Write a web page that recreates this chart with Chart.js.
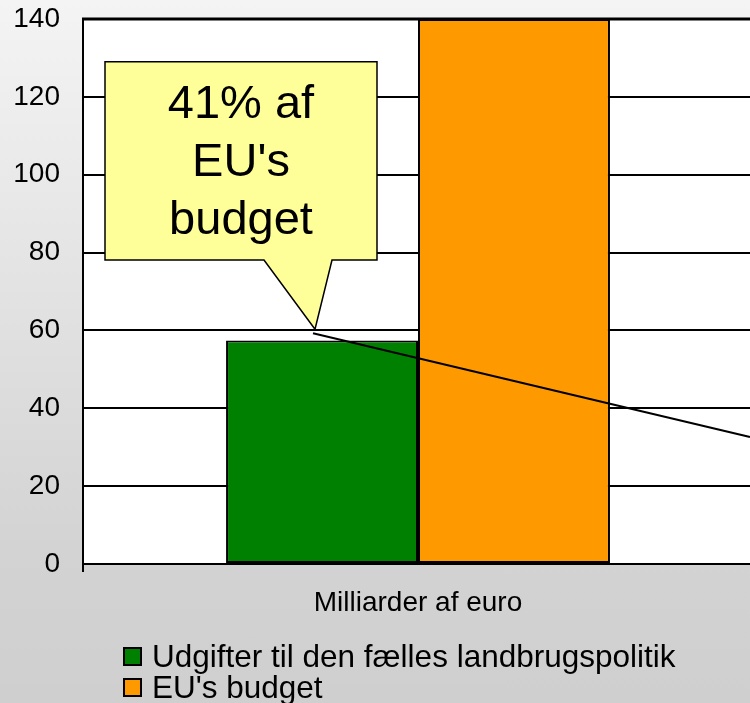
<!DOCTYPE html>
<html lang="da">
<head>
    <meta charset="UTF-8">
    <title>Landbrugspolitik</title>
    <script src="https://cdn.jsdelivr.net/npm/chart.js"></script>
    <style>
        html, body { margin: 0; padding: 0; }
        #wrap {
            position: relative;
            width: 750px;
            height: 703px;
            overflow: hidden;
            background: linear-gradient(to bottom, #f4f4f4 0%, #d3d3d3 78%, #cfcfcf 100%);
            font-family: Arial, "Liberation Sans", sans-serif;
        }
        #chartBox { position: absolute; left: 0; top: 0; width: 760px; height: 703px; }
        #legend { position: absolute; left: 123px; top: 641px; font-size: 31.5px; line-height: 31px; color: #000; }
        .legendRow { display: flex; align-items: center; white-space: nowrap; }
        .legendBox { width: 15px; height: 15px; border: 2px solid #000; margin-right: 10px; }
    </style>
</head>
<body>
    <div id="wrap">
        <div id="chartBox"><canvas id="chart" width="760" height="703"></canvas></div>
        <div id="legend"></div>
    </div>

    <script>
        const categories = ['Milliarder af euro'];
        const seriesLabels = ['Udgifter til den fælles landbrugspolitik', "EU's budget"];
        const farmSpending = [57.4];
        const euBudget = [140];
        const seriesColors = ['#008000', '#ff9900'];
        const yMin = 0;
        const yMax = 140;
        const yStep = 20;
        const calloutLines = ['41% af', "EU's", 'budget'];

        // callout box + pointer line (y in data units, x in px from chart left)
        const callout = {
            left: 22, right: 294, top: 129, bottom: 78.1,
            baseL: 181, baseR: 249, tipX: 232, tipY: 60.3
        };
        const pointerLine = { x1: 230, y1: 59.3, x2: 667, y2: 32.6 };

        const plotBackground = {
            id: 'plotBackground',
            beforeDraw(chart) {
                const { ctx, chartArea } = chart;
                ctx.save();
                ctx.fillStyle = '#ffffff';
                ctx.fillRect(chartArea.left, chartArea.top, chartArea.right - chartArea.left, chartArea.bottom - chartArea.top);
                ctx.restore();
            },
            afterDraw(chart) {
                const { ctx, chartArea } = chart;
                ctx.save();
                // thicker top border of plot area
                ctx.strokeStyle = '#000';
                ctx.lineWidth = 3;
                ctx.beginPath();
                ctx.moveTo(chartArea.left - 1, chartArea.top);
                ctx.lineTo(chartArea.right, chartArea.top);
                ctx.stroke();
                ctx.restore();
            }
        };

        const calloutPlugin = {
            id: 'callout',
            afterDatasetsDraw(chart) {
                const { ctx, chartArea } = chart;
                const y = chart.scales.y;
                const L = chartArea.left;
                const top = y.getPixelForValue(callout.top);
                const bottom = y.getPixelForValue(callout.bottom);

                ctx.save();
                ctx.lineJoin = 'miter';
                ctx.beginPath();
                ctx.moveTo(L + callout.left, top);
                ctx.lineTo(L + callout.right, top);
                ctx.lineTo(L + callout.right, bottom);
                ctx.lineTo(L + callout.baseR, bottom);
                ctx.lineTo(L + callout.tipX, y.getPixelForValue(callout.tipY));
                ctx.lineTo(L + callout.baseL, bottom);
                ctx.lineTo(L + callout.left, bottom);
                ctx.closePath();
                ctx.fillStyle = '#ffff99';
                ctx.fill();
                ctx.strokeStyle = '#000';
                ctx.lineWidth = 1.5;
                ctx.stroke();

                ctx.fillStyle = '#000';
                ctx.font = '47px Arial, "Liberation Sans", sans-serif';
                ctx.textAlign = 'center';
                ctx.textBaseline = 'alphabetic';
                const cx = L + (callout.left + callout.right) / 2;
                calloutLines.forEach((line, i) => {
                    ctx.fillText(line, cx, top + 56 + i * 58);
                });

                ctx.beginPath();
                ctx.moveTo(L + pointerLine.x1, y.getPixelForValue(pointerLine.y1));
                ctx.lineTo(L + pointerLine.x2, y.getPixelForValue(pointerLine.y2));
                ctx.lineWidth = 2;
                ctx.stroke();
                ctx.restore();
            }
        };

        const ctx = document.getElementById('chart').getContext('2d');
        const chart = new Chart(ctx, {
            type: 'bar',
            data: {
                labels: categories,
                datasets: [{
                    label: seriesLabels[0],
                    data: farmSpending,
                    backgroundColor: seriesColors[0],
                    borderColor: '#000',
                    borderWidth: 2,
                    borderSkipped: false
                }, {
                    label: seriesLabels[1],
                    data: euBudget,
                    backgroundColor: seriesColors[1],
                    borderColor: '#000',
                    borderWidth: 2,
                    borderSkipped: false
                }]
            },
            options: {
                responsive: false,
                animation: false,
                layout: { padding: { top: 19, right: 7, left: 0, bottom: 0 } },
                datasets: {
                    bar: { categoryPercentage: 0.573, barPercentage: 1.0 }
                },
                plugins: {
                    legend: { display: false },
                    tooltip: { enabled: false }
                },
                scales: {
                    x: {
                        offset: true,
                        grid: { offset: true, drawOnChartArea: false, drawTicks: true, tickLength: 8, color: '#000', lineWidth: 2 },
                        border: { display: true, color: '#000', width: 2 },
                        ticks: {
                            color: '#000',
                            padding: 14,
                            font: { family: 'Arial, "Liberation Sans", sans-serif', size: 28 }
                        },
                        afterFit(axis) { axis.height = 139; axis.paddingLeft = 0; axis.paddingRight = 0; }
                    },
                    y: {
                        min: yMin,
                        max: yMax,
                        grid: { color: '#000', lineWidth: 2, drawTicks: false },
                        border: { display: true, color: '#000', width: 2 },
                        ticks: {
                            stepSize: yStep,
                            color: '#000',
                            padding: 23,
                            font: { family: 'Arial, "Liberation Sans", sans-serif', size: 28 }
                        },
                        afterFit(axis) { axis.width = 83; axis.paddingTop = 0; axis.paddingBottom = 0; }
                    }
                }
            },
            plugins: [plotBackground, calloutPlugin]
        });

        // html legend from the datasets
        const legendEl = document.getElementById('legend');
        chart.data.datasets.forEach(ds => {
            const row = document.createElement('div');
            row.className = 'legendRow';
            row.innerHTML = `<span class="legendBox" style="background:${ds.backgroundColor}"></span><span>${ds.label}</span>`;
            legendEl.appendChild(row);
        });
    </script>
</body>
</html>
